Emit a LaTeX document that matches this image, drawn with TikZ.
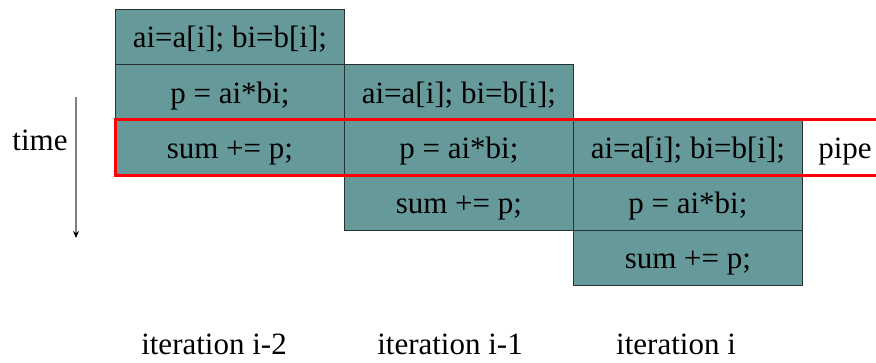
\documentclass[tikz,border=0pt]{standalone}
\usepackage{fontspec}
\setmainfont{Liberation Serif}
\usetikzlibrary{arrows.meta}
\definecolor{cellfill}{RGB}{102,153,153}
\definecolor{celledge}{RGB}{40,50,50}
\begin{document}
\begin{tikzpicture}[x=1pt,y=-1pt,
  cell/.style={draw=celledge, line width=0.8pt, fill=cellfill, minimum width=229pt, minimum height=55.2pt, inner sep=0pt, text height=23pt, text depth=1pt, anchor=north west, font=\fontsize{31}{36}\selectfont},
  lbl/.style={inner sep=0pt, anchor=base, font=\fontsize{31}{36}\selectfont},
  pipeline/.style={draw=red, line width=3pt, line join=miter}]
\useasboundingbox (0,0) rectangle (876,363);
% column 1
\node[cell] (a1) at (115,9) {ai=a[i]; bi=b[i];};
\node[cell] (a2) at (115,64.2) {p = ai*bi;};
\node[cell] (a3) at (115,119.4) {sum += p;};
% column 2
\node[cell] (b1) at (344,64.2) {ai=a[i]; bi=b[i];};
\node[cell] (b2) at (344,119.4) {p = ai*bi;};
\node[cell] (b3) at (344,174.6) {sum += p;};
% column 3
\node[cell] (c1) at (573,119.4) {ai=a[i]; bi=b[i];};
\node[cell] (c2) at (573,174.6) {p = ai*bi;};
\node[cell] (c3) at (573,229.8) {sum += p;};
% pipe frame
\coordinate (edge) at (880,0);
\coordinate (pt) at (a3.north west -| edge);
\coordinate (pb) at (a3.south west -| edge);
\draw[pipeline] (pt) -- (a3.north west) -- (a3.south west) -- (pb);
\node[lbl] (pipe) at (845,159) {pipe};
% time axis
\coordinate (t0) at (76,97);
\coordinate (t1) at (76,238);
\draw[draw=gray, line width=1.3pt, -{Stealth[black,length=7pt,width=6pt]}] (t0) -- (t1);
\node[lbl] (time) at (40,151) {time};
% iteration labels
\node[lbl] (i2) at (214,355) {iteration i-2};
\node[lbl] (i1) at (450,355) {iteration i-1};
\node[lbl] (i0) at (676,355) {iteration i};
\end{tikzpicture}
\end{document}
